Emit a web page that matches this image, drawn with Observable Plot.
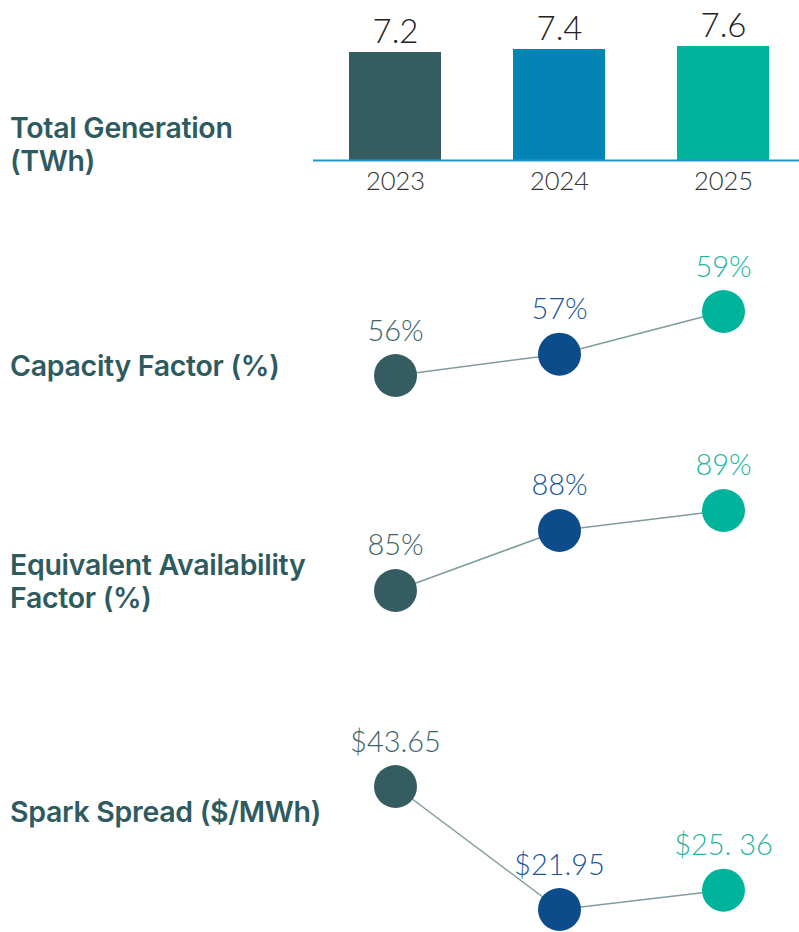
<!DOCTYPE html>
<html>
<head>
<meta charset="utf-8">
<script src="https://cdn.jsdelivr.net/npm/d3@7"></script>
<script src="https://cdn.jsdelivr.net/npm/@observablehq/plot@0.6"></script>
<style>
  html, body { margin: 0; padding: 0; background: #fff; }
  #wrap { position: relative; width: 799px; height: 932px; overflow: hidden; }
  .panel { position: absolute; left: 0; }
  .lbl { position: absolute; left: 10px; font-family: Inter, "Open Sans", sans-serif; font-weight: 600;
         font-size: 28.5px; line-height: 33px; color: #2f5b60; letter-spacing: -0.3px; white-space: nowrap; }
  svg text { font-family: Lato, "Open Sans", sans-serif; }
</style>
</head>
<body>
<div id="wrap"></div>
<script>
const years = ["2023", "2024", "2025"];
const generation = [7.2, 7.4, 7.6];
const capacityFactor = [56, 57, 59];
const eaf = [85, 88, 89];
const sparkSpread = [43.65, 21.95, 25.36];
const sparkLabels = ["$43.65", "$21.95", "$25. 36"];
const barColors = ["#355c60", "#0484b5", "#00b39b"];
const dotColors = ["#355c60", "#0c4c8a", "#00b39b"];
const labelColors = ["#3e6468", "#1c579c", "#1eb59e"];
const rowLabels = ["Total Generation<br>(TWh)", "Capacity Factor (%)", "Equivalent Availability<br>Factor (%)", "Spark Spread ($/MWh)"];

const wrap = document.getElementById("wrap");
const xScale = {type: "band", domain: years, paddingInner: 0.44, paddingOuter: 0.2, align: 0.55, round: true, axis: null, label: null};
const W = 799, ML = 313, MR = 0;

function place(node, top) {
  node.classList.add("panel");
  node.style.top = top + "px";
  wrap.appendChild(node);
}

// Bar panel
const genData = years.map((y, i) => ({year: y, value: generation[i], color: barColors[i]}));
place(Plot.plot({
  width: W, height: 210, marginLeft: ML, marginRight: MR, marginTop: 10, marginBottom: 50,
  x: xScale,
  y: {domain: [0, 10], axis: null},
  marks: [
    Plot.barY(genData, {x: "year", y: "value", fill: "color"}),
    Plot.ruleY([0], {stroke: "#2496cc", strokeWidth: 2}),
    Plot.text(genData, {x: "year", y: "value", text: d => d.value.toFixed(1), dy: -10, lineAnchor: "bottom",
      fontSize: 33, fontWeight: 300, fill: "#222"}),
    Plot.axisX({tickSize: 0, tickPadding: 11, fontSize: 25.5, fontWeight: 300, color: "#333", label: null})
  ]
}), 0);

function dotPanel(values, labels, top, height, mt, mb, dy) {
  const data = years.map((y, i) => ({year: y, value: values[i], label: labels[i], color: dotColors[i], lc: labelColors[i]}));
  place(Plot.plot({
    width: W, height, marginLeft: ML, marginRight: MR, marginTop: mt, marginBottom: mb,
    x: xScale,
    y: {domain: d3.extent(values), axis: null},
    marks: [
      Plot.line(data, {x: "year", y: "value", stroke: "#819c9e", strokeWidth: 1.5}),
      Plot.dot(data, {x: "year", y: "value", r: 21.5, fill: "color"}),
      Plot.text(data, {x: "year", y: "value", text: "label", dy: dy, fill: "lc", fontSize: 29, fontWeight: 300})
    ]
  }), top);
}

dotPanel(capacityFactor, capacityFactor.map(v => v + "%"), 230, 170, 81, 25, -44);
dotPanel(eaf, eaf.map(v => v + "%"), 420, 200, 90, 30, -45);
dotPanel(sparkSpread, sparkLabels, 680, 252, 106, 23, -44);

// Row labels (HTML)
const labelTops = [111, 349, 548, 795];
rowLabels.forEach((t, i) => {
  const d = document.createElement("div");
  d.className = "lbl";
  d.innerHTML = t;
  d.style.top = labelTops[i] + "px";
  wrap.appendChild(d);
});
</script>
</body>
</html>
